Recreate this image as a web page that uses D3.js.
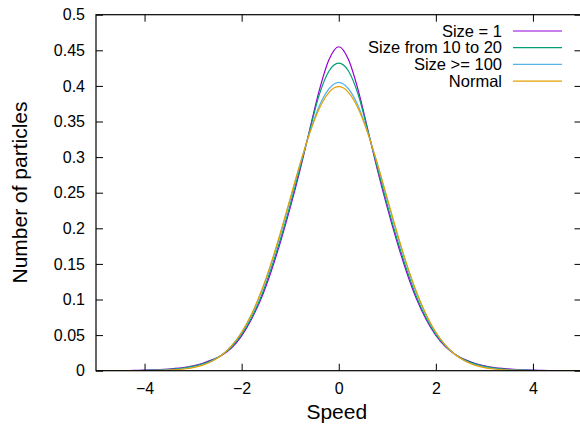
<!DOCTYPE html>
<html><head><meta charset="utf-8">
<script src="https://cdn.jsdelivr.net/npm/d3@7/dist/d3.min.js"></script>
<style>
html,body{margin:0;padding:0;background:#fff;}
svg{display:block;font-family:"Liberation Sans",Arial,Helvetica,sans-serif;}
</style></head>
<body>
<svg id="chart" width="580" height="428"></svg>
<script>
const speeds = [-5,-4.8,-4.6,-4.4,-4.2,-4,-3.8,-3.6,-3.4,-3.2,-3,-2.8,-2.6,-2.4,-2.2,-2,-1.8,-1.6,-1.4,-1.2,-1,-0.8,-0.6,-0.4,-0.2,0,0.2,0.4,0.6,0.8,1,1.2,1.4,1.6,1.8,2,2.2,2.4,2.6,2.8,3,3.2,3.4,3.6,3.8,4,4.2,4.4,4.6,4.8,5];
const size1 = [0,0.0001,0.0001,0.0002,0.0004,0.0007,0.0012,0.0019,0.0030,0.0045,0.0070,0.0105,0.0155,0.0222,0.0325,0.0490,0.072,0.101,0.138,0.181,0.229,0.281,0.338,0.394,0.437,0.455,0.437,0.394,0.338,0.281,0.229,0.181,0.138,0.101,0.072,0.0495,0.0335,0.0229,0.0155,0.0105,0.0070,0.0045,0.0030,0.0019,0.0012,0.0007,0.0004,0.0002,0.0001,0.0001,0];
const size10to20 = [0,0,0.0001,0.0001,0.0002,0.0004,0.0008,0.0013,0.0022,0.0037,0.0060,0.0095,0.0148,0.0224,0.0340,0.051,0.074,0.104,0.142,0.185,0.233,0.284,0.337,0.388,0.421,0.432,0.421,0.388,0.337,0.284,0.233,0.185,0.142,0.104,0.074,0.051,0.0345,0.0228,0.0148,0.0095,0.0060,0.0037,0.0022,0.0013,0.0008,0.0004,0.0002,0.0001,0.0001,0,0];
const size100 = [0,0,0,0,0.0001,0.0002,0.0004,0.0007,0.0014,0.0027,0.0048,0.0084,0.0140,0.0226,0.0355,0.0535,0.078,0.1095,0.148,0.192,0.240,0.289,0.334,0.372,0.396,0.405,0.396,0.372,0.334,0.289,0.240,0.192,0.148,0.1095,0.078,0.0535,0.0355,0.0226,0.0140,0.0084,0.0048,0.0027,0.0014,0.0007,0.0004,0.0002,0.0001,0,0,0,0];
const normal = [0,0,0,0,0.0001,0.0001,0.0003,0.0006,0.0012,0.0024,0.0044,0.0079,0.0136,0.0224,0.0355,0.0540,0.0790,0.1109,0.1497,0.1942,0.2420,0.2897,0.3332,0.3683,0.3910,0.3989,0.3910,0.3683,0.3332,0.2897,0.2420,0.1942,0.1497,0.1109,0.0790,0.0540,0.0355,0.0224,0.0136,0.0079,0.0044,0.0024,0.0012,0.0006,0.0003,0.0001,0.0001,0,0,0,0];
const seriesNames = ["Size = 1","Size from 10 to 20","Size >= 100","Normal"];
const seriesColors = ["#9400d3","#009e73","#56b4e9","#e69f00"];
const xTicks = [-4,-2,0,2,4];
const yTicks = [0,0.05,0.1,0.15,0.2,0.25,0.3,0.35,0.4,0.45,0.5];
const yTickLabels = ["0","0.05","0.1","0.15","0.2","0.25","0.3","0.35","0.4","0.45","0.5"];

const svg = d3.select("#chart");
const L = 96, R = 581.5, T = 14.7, B = 370.7;
const x = d3.scaleLinear().domain([-5,5]).range([L,R]);
const y = d3.scaleLinear().domain([0,0.5]).range([B,T]);

svg.append("defs").append("clipPath").attr("id","clip")
  .append("rect").attr("x",L).attr("y",T).attr("width",R-L).attr("height",B-T);

const allSeries = [size1,size10to20,size100,normal];
const line = d3.line().x((d,i)=>x(speeds[i])).y(d=>y(d)).curve(d3.curveMonotoneX);
const g = svg.append("g").attr("clip-path","url(#clip)");
allSeries.forEach((s,k)=>{
  g.append("path").datum(s).attr("d",line).attr("fill","none")
   .attr("stroke",seriesColors[k]).attr("stroke-width",1.2).attr("stroke-linejoin","round");
});

function styleAxis(sel){
  sel.select(".domain").remove();
  sel.selectAll(".tick line").attr("stroke","#000").attr("stroke-width",1);
  sel.selectAll(".tick text").attr("fill","#000").style("font-size","16px");
}
svg.append("g").attr("transform",`translate(0,${B})`)
  .call(d3.axisBottom(x).tickValues(xTicks).tickSize(-7).tickPadding(12))
  .call(styleAxis);
svg.append("g").attr("transform",`translate(0,${T})`)
  .call(d3.axisTop(x).tickValues(xTicks).tickSize(-7).tickFormat(""))
  .call(styleAxis);
svg.append("g").attr("transform",`translate(${L},0)`)
  .call(d3.axisLeft(y).tickValues(yTicks).tickSize(-7).tickPadding(11).tickFormat((d,i)=>yTickLabels[i]))
  .call(styleAxis);
svg.append("g").attr("transform",`translate(${R},0)`)
  .call(d3.axisRight(y).tickValues(yTicks).tickSize(-7).tickFormat(""))
  .call(styleAxis);

svg.append("rect").attr("x",L).attr("y",T).attr("width",R-L).attr("height",B-T)
  .attr("fill","none").attr("stroke","#000").attr("stroke-width",1.2);

// legend
const lg = svg.append("g");
seriesNames.forEach((name,k)=>{
  const by = 36.5 + k*16.7;
  lg.append("text").attr("x",502).attr("y",by).attr("text-anchor","end")
    .style("font-size","16.5px").attr("fill","#000").text(name);
  lg.append("line").attr("x1",513).attr("x2",562).attr("y1",by-5.5).attr("y2",by-5.5)
    .attr("stroke",seriesColors[k]).attr("stroke-width",1.2);
});

svg.append("text").attr("x",(L+R)/2 - 2).attr("y",419).attr("text-anchor","middle")
  .style("font-size","21px").attr("fill","#000").text("Speed");
svg.append("text").attr("transform",`translate(27,192.5) rotate(-90)`).attr("text-anchor","middle")
  .style("font-size","21px").attr("fill","#000").text("Number of particles");
</script>
</body></html>
